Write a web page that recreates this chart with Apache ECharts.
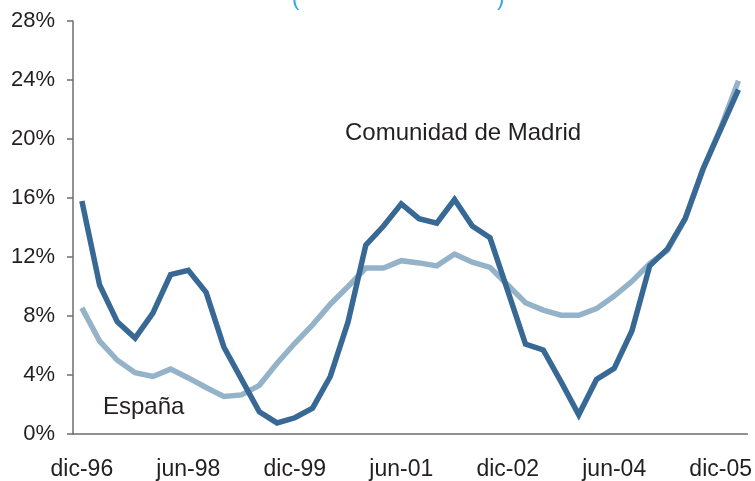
<!DOCTYPE html>
<html>
<head>
<meta charset="utf-8">
<script src="https://cdn.jsdelivr.net/npm/echarts@6/dist/echarts.min.js"></script>
<style>
  html, body { margin: 0; padding: 0; background: #fff; }
  #chart { width: 755px; height: 481px; }
</style>
</head>
<body>
<div id="chart"></div>
<script>
// trimestres, de dic-96 a mar-06
const quarters = [
  'dic-96', 'mar-97', 'jun-97', 'sep-97', 'dic-97', 'mar-98', 'jun-98', 'sep-98',
  'dic-98', 'mar-99', 'jun-99', 'sep-99', 'dic-99', 'mar-00', 'jun-00', 'sep-00',
  'dic-00', 'mar-01', 'jun-01', 'sep-01', 'dic-01', 'mar-02', 'jun-02', 'sep-02',
  'dic-02', 'mar-03', 'jun-03', 'sep-03', 'dic-03', 'mar-04', 'jun-04', 'sep-04',
  'dic-04', 'mar-05', 'jun-05', 'sep-05', 'dic-05', 'mar-06'
]

const madrid = [
  15.8, 10.1, 7.6, 6.5, 8.2, 10.8, 11.1, 9.6,
  5.9, 3.7, 1.5, 0.75, 1.1, 1.75, 3.9, 7.6,
  12.8, 14.1, 15.6, 14.6, 14.3, 15.9, 14.1, 13.3,
  9.7, 6.1, 5.7, 3.55, 1.3, 3.7, 4.45, 7.0,
  11.4, 12.55, 14.6, 17.95, 20.65, 23.35
]

const espana = [
  8.55, 6.3, 5.0, 4.15, 3.9, 4.4, 3.8, 3.15,
  2.55, 2.65, 3.3, 4.8, 6.15, 7.4, 8.8, 10.0,
  11.25, 11.25, 11.75, 11.6, 11.4, 12.2, 11.65, 11.3,
  10.1, 8.9, 8.4, 8.05, 8.05, 8.5, 9.35, 10.35,
  11.55, 12.45, 14.6, 17.95, 20.75, 23.95
]

const yTicks = [0, 4, 8, 12, 16, 20, 24, 28]

const textColor = '#231f20'
const fontFamily = 'Liberation Sans, Arial, sans-serif'

const option = {
  animation: false,
  backgroundColor: '#fff',
  title: [
    { text: '(', left: 287, top: -17, textStyle: { color: '#29a9e0', fontSize: 22, fontWeight: 'normal', fontFamily: fontFamily } },
    { text: ')', left: 492, top: -17, textStyle: { color: '#29a9e0', fontSize: 22, fontWeight: 'normal', fontFamily: fontFamily } }
  ],
  grid: {
    left: 73,
    right: 7,
    top: 21,
    bottom: 45
  },
  xAxis: {
    type: 'category',
    data: quarters,
    boundaryGap: true,
    axisLine: { lineStyle: { color: '#6d6e70', width: 1.5 } },
    axisTick: { interval: 5, length: 7, lineStyle: { color: '#6d6e70', width: 1.5 } },
    axisLabel: {
      interval: 5,
      margin: 24,
      color: textColor,
      fontSize: 23,
      fontFamily: fontFamily
    },
    splitLine: { show: false }
  },
  yAxis: {
    type: 'value',
    min: yTicks[0],
    max: yTicks[yTicks.length - 1],
    interval: 4,
    axisLine: { show: true, lineStyle: { color: '#6d6e70', width: 1.5 } },
    axisTick: { show: true, length: 6, lineStyle: { color: '#6d6e70', width: 1.5 } },
    axisLabel: {
      margin: 18,
      color: textColor,
      fontSize: 22,
      fontFamily: fontFamily,
      formatter: '{value}%'
    },
    splitLine: { show: false }
  },
  graphic: [
    { type: 'text', left: 345, top: 121, style: { text: 'Comunidad de Madrid', fill: textColor, fontSize: 24, fontFamily: fontFamily } },
    { type: 'text', left: 103, top: 395, style: { text: 'España', fill: textColor, fontSize: 24, fontFamily: fontFamily } }
  ],
  series: [
    {
      name: 'España',
      type: 'line',
      data: espana,
      showSymbol: false,
      symbol: 'none',
      lineStyle: { color: '#95b3c8', width: 5.5, join: 'miter' }
    },
    {
      name: 'Comunidad de Madrid',
      type: 'line',
      data: madrid,
      showSymbol: false,
      symbol: 'none',
      lineStyle: { color: '#386894', width: 5.5, join: 'miter' }
    }
  ]
}

let chart = echarts.init(document.getElementById('chart'))
chart.setOption(option)
</script>
</body>
</html>
